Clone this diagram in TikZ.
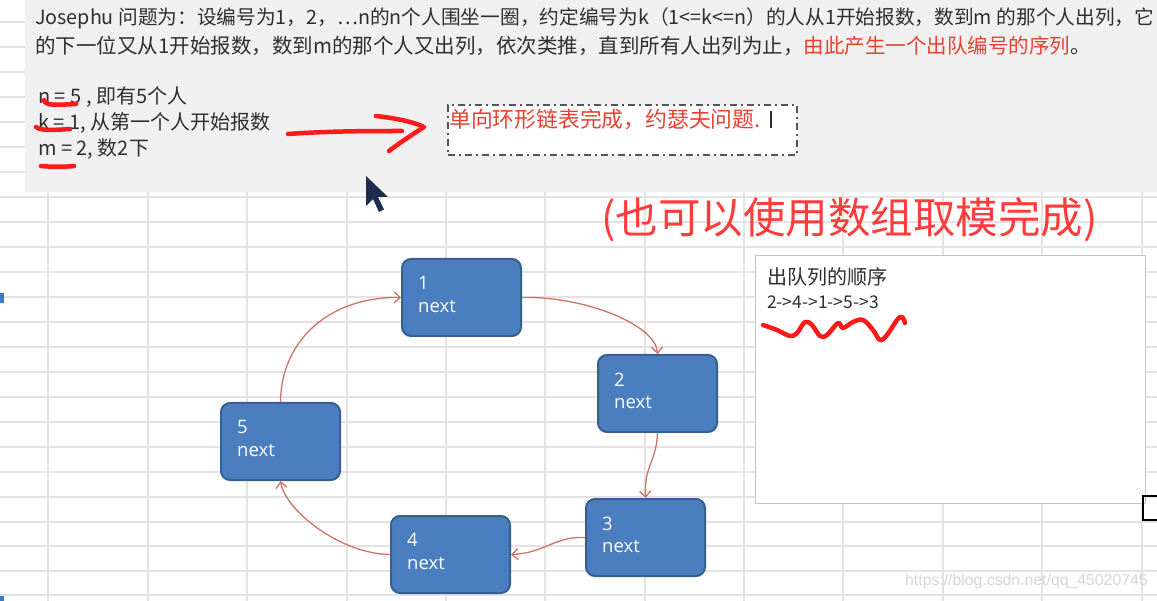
\documentclass[tikz,border=0pt]{standalone}
\usepackage{fontspec}
\setmainfont{Carlito}
\newfontfamily\cjk{Noto Sans CJK SC}
\newfontfamily\wmfont{Liberation Sans}
\newfontfamily\boxfont{Open Sans}
\usetikzlibrary{arrows.meta}
\definecolor{gridc}{HTML}{E3E3E3}
\definecolor{panelc}{HTML}{F0F0F0}
\definecolor{nodefill}{HTML}{4A7EBE}
\definecolor{nodeborder}{HTML}{35608F}
\definecolor{linkc}{HTML}{CF7366}
\definecolor{markc}{HTML}{FF1A1A}
\definecolor{redtxt}{HTML}{E8412F}
\definecolor{bigred}{HTML}{FF3B3B}
\definecolor{txtc}{HTML}{2E2E2E}
\definecolor{boxgray}{HTML}{C4C4C4}
\definecolor{dashc}{HTML}{555555}
\definecolor{wmc}{HTML}{D6D6D6}
\definecolor{cursorc}{HTML}{1E2D4F}
\definecolor{selblue}{HTML}{3C78C8}
\tikzset{
  gridline/.style={draw=gridc, line width=1.4pt},
  nodebox/.style={draw=nodeborder, fill=nodefill, line width=2pt, rounded corners=9pt,
    minimum width=119pt, minimum height=77pt, anchor=north west, inner sep=0pt},
  nodelabel/.style={anchor=north west, inner sep=0pt, text=white, align=left,
    font=\boxfont\fontsize{18.5}{22.5}\selectfont},
  link/.style={draw=linkc, line width=1.3pt, -{Straight Barb[length=6pt,width=11pt]}},
  topline/.style={anchor=west, inner sep=0pt, text=txtc, font=\cjk\fontsize{20.5}{24}\selectfont},
  param/.style={anchor=west, inner sep=0pt, text=txtc, font=\cjk\fontsize{20}{22}\selectfont},
  marker/.style={draw=markc, line width=4.5pt, line cap=round, line join=round},
}
\begin{document}
\begin{tikzpicture}[x=1pt,y=-1pt]
\useasboundingbox (0,0) rectangle (1157,601);
\fill[white] (0,0) rectangle (1157,601);
% spreadsheet grid
\foreach \x in {48,148,247,347,446,545,645,744,843,943,1042,1142}
  \draw[gridline] (\x,0) -- (\x,601);
\foreach \y in {22,47,72,97,122,147,172,197,222,247,272,297,322,347,372,397,422,447,472,497,522,546,571,595}
  \draw[gridline] (0,\y) -- (1157,\y);
% selection marks at the left edge
\fill[selblue] (0,293) rectangle (4,303);
\fill[selblue] (0,596) rectangle (4,601);
% top panel
\fill[panelc] (25,0) rectangle (1157,192);
\node[topline, font=\cjk\fontsize{19.7}{24}\selectfont] (line1) at (35,18) {Josephu 问题为：设编号为1，2，…n的n个人围坐一圈，约定编号为k（1<=k<=n）的人从1开始报数，数到m 的那个人出列，它};
\node[topline] (line2) at (35,46) {的下一位又从1开始报数，数到m的那个人又出列，依次类推，直到所有人出列为止，\textcolor{redtxt}{由此产生一个出队编号的序列}。};
\node[param] (pn) at (38,97) {n = 5 , 即有5个人};
\node[param] (pk) at (38,123) {k = 1, 从第一个人开始报数};
\node[param] (pm) at (38,149) {m = 2, 数2下};
% hand-drawn marks
\draw[marker] (44,100) .. controls (45,106) and (56,105) .. (76,104);
\draw[marker] (36,127) .. controls (40,131) and (55,130) .. (70,129);
\draw[marker] (41,166) .. controls (50,167) and (65,167) .. (74,166);
\draw[marker] (288,134) .. controls (330,131) and (370,131) .. (402,131);
\draw[marker] (376,116) .. controls (395,118) and (414,122) .. (424,127) .. controls (410,136) and (398,144) .. (389,151);
% dashed note
\node[draw=dashc, fill=white, line width=1.6pt, dash pattern=on 7pt off 4pt on 2pt off 4pt,
  minimum width=349pt, minimum height=50pt, anchor=north west, inner sep=0pt] (note) at (447,104) {};
\node[anchor=west, inner sep=0pt, text=redtxt, font=\cjk\fontsize{21.8}{24}\selectfont] (notetxt) at (449,119) {单向环形链表完成，约瑟夫问题.};
\draw[txtc, line width=1.2pt] (771,111) -- (771,128);
% mouse pointer
\fill[cursorc] (366,176) -- (366,206) -- (373,199) -- (379,212) -- (384,209.5) -- (378,197) -- (388,197) -- cycle;
% big red remark
\node[anchor=west, inner sep=0pt, text=bigred, font=\cjk\fontsize{42.5}{48}\selectfont] (remark) at (601,220) {(也可以使用数组取模完成)};
% sequence box
\node[draw=boxgray, fill=white, line width=1.3pt, minimum width=390pt, minimum height=248pt,
  anchor=north west, inner sep=0pt] (seq) at (755,255) {};
\node[anchor=west, inner sep=0pt, text=txtc, font=\cjk\fontsize{20}{22}\selectfont] (seqtitle) at (767,277) {出队列的顺序};
\node[anchor=west, inner sep=0pt, text=txtc, font=\cjk\fontsize{17.5}{20}\selectfont] (seqval) at (767,302) {2->4->1->5->3};
\draw[marker] plot[smooth, tension=0.6] coordinates {(763,325) (777,330) (790,336) (797,333) (805,322) (812,325) (820,336) (827,335) (838,323) (843,328) (853,322) (863,320) (873,330) (880,340) (887,335) (897,320) (902,317) (905,323)};
% black corner mark
\draw[black, line width=2.5pt] (1157,496) -- (1143,496) -- (1143,520) -- (1157,520);
% linked list nodes
\node[nodebox] (n1) at (401,258) {};
\node[nodebox] (n2) at (597,354) {};
\node[nodebox] (n3) at (585,498) {};
\node[nodebox] (n4) at (390,515) {};
\node[nodebox] (n5) at (220,402) {};
\node[nodelabel] (l1) at (418,276.5) {1\\next};
\node[nodelabel] (l2) at (614,372.5) {2\\next};
\node[nodelabel] (l3) at (602,516.5) {3\\next};
\node[nodelabel] (l4) at (407,533.5) {4\\next};
\node[nodelabel] (l5) at (237,420.5) {5\\next};
% connectors
\draw[link] (n1.east) .. controls (585,296) and (656,325) .. (n2.north);
\draw[link] (n2.south) .. controls (656.5,462) and (644,465) .. (n3.north);
\draw[link] (n3.west) .. controls (555,536) and (545,553) .. (n4.east);
\draw[link] (n4.west) .. controls (340,554) and (285,510) .. (n5.south);
\draw[link] (n5.north) .. controls (281,340) and (330,296.5) .. (n1.west);
% watermark
\node[anchor=west, inner sep=0pt, text=wmc, font=\wmfont\fontsize{15.8}{18}\selectfont] (wm) at (905,581) {https://blog.csdn.net/qq\_45020745};
\end{tikzpicture}
\end{document}
